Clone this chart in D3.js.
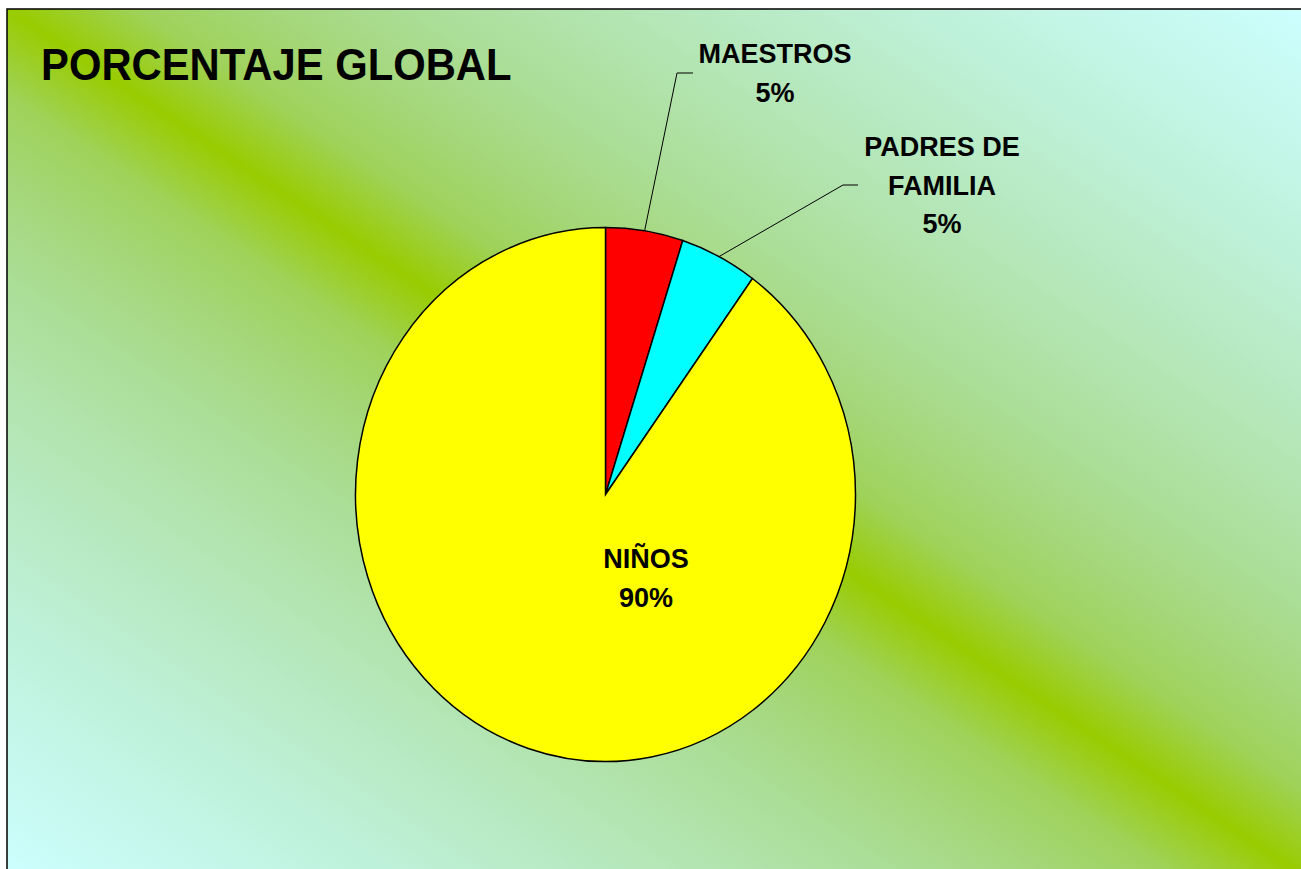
<!DOCTYPE html>
<html>
<head>
<meta charset="utf-8">
<script src="https://cdn.jsdelivr.net/npm/d3@7"></script>
<style>
  html, body { margin: 0; padding: 0; background: #fff; }
  text { font-family: "Liberation Sans", Arial, sans-serif; font-weight: bold; fill: #000; }
</style>
</head>
<body>
<svg id="chart" width="1301" height="869"></svg>
<script>
// data
const categories = ["MAESTROS", "PADRES DE FAMILIA", "NIÑOS"];
const values = [5, 5, 90];
const labelLines = [["MAESTROS", "5%"], ["PADRES DE", "FAMILIA", "5%"], ["NIÑOS", "90%"]];
const sliceColors = ["#ff0000", "#00ffff", "#ffff00"];

const width = 1301, height = 869;
const cx = 605.5, cy = 494.5;
const rx = 250, ry = 267;   // pie is drawn a little stretched, like the original
const titleSqueeze = 0.95;  // text is a bit narrower than Arial too
const labelSqueeze = 0.965;

const svg = d3.select("#chart");

// diagonal background: cyan corners, green band from top-left to bottom-right.
// the original blends in linear light, so build the stops with a gamma interpolator
const defs = svg.append("defs");
const grad = defs.append("linearGradient")
    .attr("id", "bg")
    .attr("x1", 1).attr("y1", 0)
    .attr("x2", 0).attr("y2", 1);
const blend = d3.interpolateRgb.gamma(2.2)("#ccffff", "#99cc00");
d3.range(0, 21).forEach(function (k) {
    const off = k / 20;
    const t = off <= 0.5 ? off * 2 : (1 - off) * 2;
    grad.append("stop").attr("offset", off).attr("stop-color", blend(t));
});

svg.append("rect")
    .attr("x", 7).attr("y", 9)
    .attr("width", 1303).attr("height", 871)
    .attr("fill", "url(#bg)")
    .attr("stroke", "#000")
    .attr("stroke-width", 1.5);

// title
svg.append("text")
    .attr("transform", `translate(41,80) scale(${titleSqueeze},1)`)
    .style("font-size", "44px")
    .text("PORCENTAJE GLOBAL");

// pie
const pie = d3.pie().sort(null).value(d => d)(values);
const arc = d3.arc().innerRadius(0).outerRadius(rx);

const g = svg.append("g")
    .attr("transform", `translate(${cx},${cy}) scale(1,${ry / rx})`);

g.selectAll("path")
    .data(pie)
    .enter().append("path")
    .attr("d", arc)
    .attr("fill", (d, i) => sliceColors[i])
    .attr("stroke", "#000")
    .attr("stroke-width", 1.5)
    .attr("vector-effect", "non-scaling-stroke");

// point on the pie edge at the middle of a slice, in page coords
function edgePoint(d) {
    const a = (d.startAngle + d.endAngle) / 2;
    return [cx + rx * Math.sin(a), cy - ry * Math.cos(a)];
}

// label placement (as Excel put them)
const labelPos = [
    { x: 775, y: 63, elbow: [677, 73], tail: 693 },
    { x: 942, y: 156, elbow: [843, 185], tail: 858 },
    { x: 646, y: 568 }
];
const lineHeight = 38.7;

pie.forEach(function (d, i) {
    const p = labelPos[i];
    if (p.elbow) {
        const s = edgePoint(d);
        svg.append("polyline")
            .attr("points", [s, p.elbow, [p.tail, p.elbow[1]]].map(q => q.join(",")).join(" "))
            .attr("fill", "none")
            .attr("stroke", "#000")
            .attr("stroke-width", 1);
    }
    labelLines[i].forEach(function (line, k) {
        svg.append("text")
            .attr("transform", `translate(${p.x},${p.y + k * lineHeight}) scale(${labelSqueeze},1)`)
            .attr("text-anchor", "middle")
            .style("font-size", "28px")
            .text(line);
    });
});
</script>
</body>
</html>
